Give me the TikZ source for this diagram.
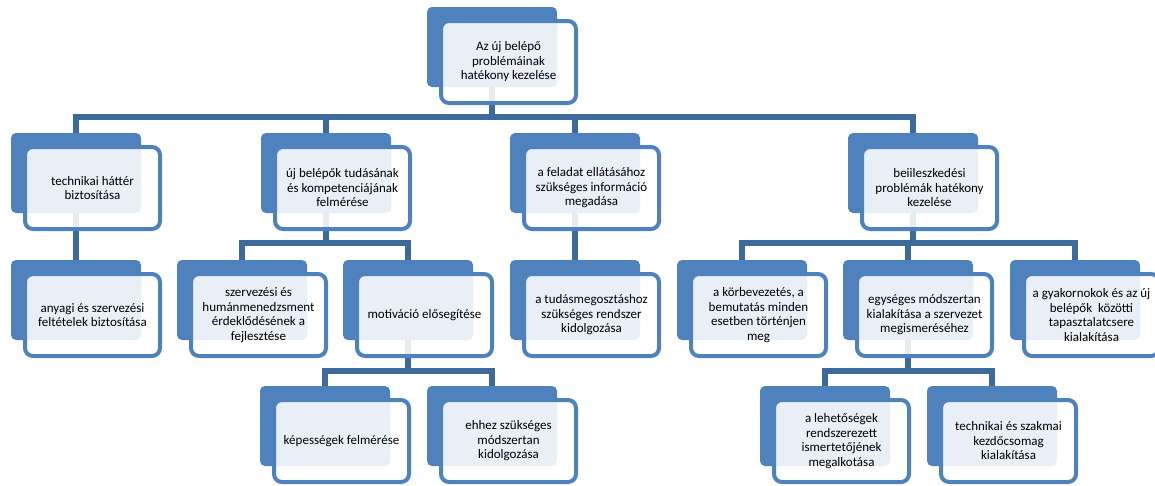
\documentclass[tikz,border=0pt]{standalone}
\usepackage{fontspec}
\setmainfont{Carlito}
\usetikzlibrary{backgrounds}
\definecolor{boxblue}{RGB}{79,129,189}
\definecolor{linkblue}{RGB}{62,105,155}
\tikzset{
  backbox/.style={draw=none,fill=boxblue,rounded corners=5pt,minimum width=130pt,minimum height=80pt,inner sep=0pt},
  frontbox/.style={draw=boxblue,line width=4pt,fill=white,fill opacity=0.88,text opacity=1,rounded corners=8pt,
    minimum width=135pt,minimum height=82pt,inner sep=0pt,align=center,text=black,
    font=\fontsize{13}{14.5}\selectfont},
  conn/.style={draw=linkblue,line width=5.5pt}
}
\newcommand{\hnode}[4]{%
  \node[backbox] (#1-b) at ({#2+65},{#3+40}) {};
  \node[frontbox] (#1) at ({#2+81.5},{#3+55}) {#4};
}
\begin{document}
\begin{tikzpicture}[x=1pt,y=-1pt]
\useasboundingbox (0,0) rectangle (1155,485);
% level 0
\hnode{top}{427}{7}{Az új belépő\\problémáinak\\hatékony kezelése}
% level 1
\hnode{tech}{11}{133}{technikai háttér\\biztosítása}
\hnode{uj}{261}{133}{új belépők tudásának\\és kompetenciájának\\felmérése}
\hnode{fel}{510}{133}{a feladat ellátásához\\szükséges információ\\megadása}
\hnode{beil}{848}{133}{beiileszkedési\\problémák hatékony\\kezelése}
% level 2
\hnode{anyagi}{11}{260}{anyagi és szervezési\\feltételek biztosítása}
\hnode{szerv}{177}{260}{szervezési és\\humánmenedzsment\\érdeklődésének a\\fejlesztése}
\hnode{motiv}{343}{260}{motiváció elősegítése}
\hnode{tudas}{510}{260}{a tudásmegosztáshoz\\szükséges rendszer\\kidolgozása}
\hnode{korb}{677}{260}{a körbevezetés, a\\bemutatás minden\\esetben történjen\\meg}
\hnode{egys}{843}{260}{egységes módszertan\\kialakítása a szervezet\\megismeréséhez}
\hnode{gyak}{1010}{260}{a gyakornokok és az új\\belépők\ \ közötti\\tapasztalatcsere\\kialakítása}
% level 3
\hnode{kep}{260}{386}{képességek felmérése}
\hnode{ehhez}{427}{386}{ehhez szükséges\\módszertan\\kidolgozása}
\hnode{lehet}{760}{386}{a lehetőségek\\rendszerezett\\ismertetőjének\\megalkotása}
\hnode{techsz}{927}{386}{technikai és szakmai\\kezdőcsomag\\kialakítása}
% connectors
\begin{scope}[on background layer]
\foreach \c in {tech,uj,fel,beil}
  \draw[conn] (top-b.south) -- ++(0,30) -| (\c-b.north);
\draw[conn] (tech-b.south) -- (anyagi-b.north);
\draw[conn] (fel-b.south) -- (tudas-b.north);
\foreach \c in {szerv,motiv}
  \draw[conn] (uj-b.south) -- ++(0,30) -| (\c-b.north);
\foreach \c in {korb,egys,gyak}
  \draw[conn] (beil-b.south) -- ++(0,30) -| (\c-b.north);
\foreach \c in {kep,ehhez}
  \draw[conn] (motiv-b.south) -- ++(0,31) -| (\c-b.north);
\foreach \c in {lehet,techsz}
  \draw[conn] (egys-b.south) -- ++(0,31) -| (\c-b.north);
\end{scope}
\end{tikzpicture}
\end{document}
